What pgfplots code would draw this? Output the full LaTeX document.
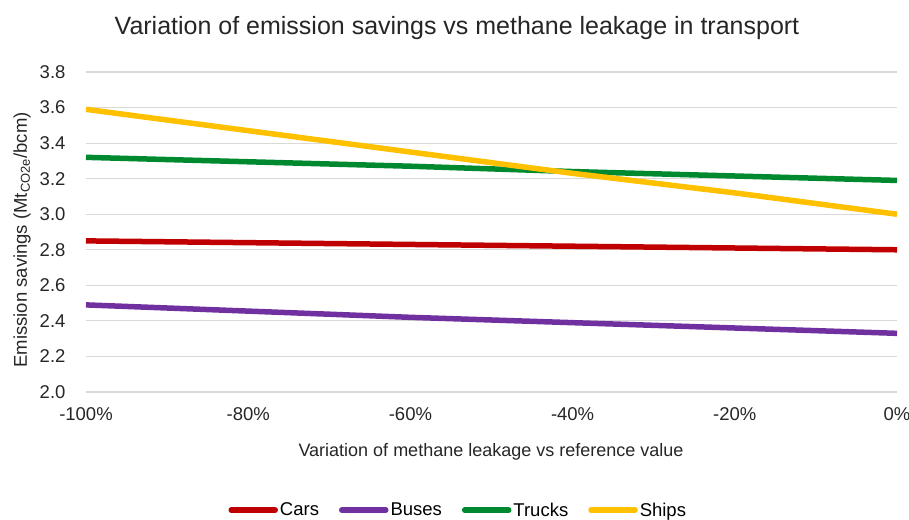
\documentclass[border=0pt]{standalone}
\usepackage{pgfplots}
\pgfplotsset{compat=1.18}
\usepackage{fontspec}
\setmainfont{Liberation Sans}
\definecolor{cars}{HTML}{C00000}
\definecolor{buses}{HTML}{7030A0}
\definecolor{trucks}{HTML}{00892F}
\definecolor{ships}{HTML}{FFC000}
\definecolor{gridc}{HTML}{D9D9D9}
\begin{document}
\begin{tikzpicture}[x=1pt,y=1pt]
\useasboundingbox (-86,-127) rectangle (823,392);
\begin{axis}[
  at={(0,0)}, anchor=south west,
  scale only axis, width=811pt, height=320pt,
  xmin=-100, xmax=0, ymin=2, ymax=3.8,
  xtick={-100,-80,-60,-40,-20,0},
  xticklabels={-100\%,-80\%,-60\%,-40\%,-20\%,0\%},
  ytick={2.0,2.2,...,3.81},
  /pgf/number format/assume math mode=true,
  yticklabel style={/pgf/number format/fixed,/pgf/number format/fixed zerofill,/pgf/number format/precision=1},
  ticklabel style={font=\fontsize{18.5}{22}\selectfont, text=black!85},
  ymajorgrids, major grid style={gridc, line width=1.2pt},
  axis line style={draw=none}, major tick length=0pt,
  xticklabel style={yshift=-12pt},
  yticklabel style={xshift=-17pt},
  legend columns=4,
  legend style={draw=none, at={(0.459,-0.369)}, anchor=center, font=\fontsize{18.5}{22}\selectfont, /tikz/every even column/.append style={column sep=18pt}},
  legend image code/.code={\draw[#1, line cap=round] (0pt,0pt) -- (44pt,0pt);},
  clip=false,
]
\addplot[cars, line width=5.5pt] coordinates {(-100,2.85) (-80,2.84) (-60,2.83) (-40,2.82) (-20,2.81) (0,2.80)};
\addlegendentry{Cars}
\addplot[buses, line width=5.5pt] coordinates {(-100,2.49) (-80,2.455) (-60,2.42) (-40,2.39) (-20,2.36) (0,2.33)};
\addlegendentry{Buses}
\addplot[trucks, line width=5.5pt] coordinates {(-100,3.32) (-80,3.295) (-60,3.27) (-40,3.24) (-20,3.215) (0,3.19)};
\addlegendentry{Trucks}
\addplot[ships, line width=5.5pt] coordinates {(-100,3.59) (-80,3.47) (-60,3.35) (-40,3.23) (-20,3.12) (0,3.00)};
\addlegendentry{Ships}
\end{axis}
\node[font=\fontsize{25}{30}\selectfont, text=black!85] at (371,364) {Variation of emission savings vs methane leakage in transport};
\node[font=\fontsize{18}{22}\selectfont, text=black!85] at (405,-60) {Variation of methane leakage vs reference value};
\node[font=\fontsize{18.5}{22}\selectfont, text=black!85, rotate=90] at (-64,152) {Emission savings (Mt\textsubscript{CO2e}/bcm)};
\end{tikzpicture}
\end{document}
